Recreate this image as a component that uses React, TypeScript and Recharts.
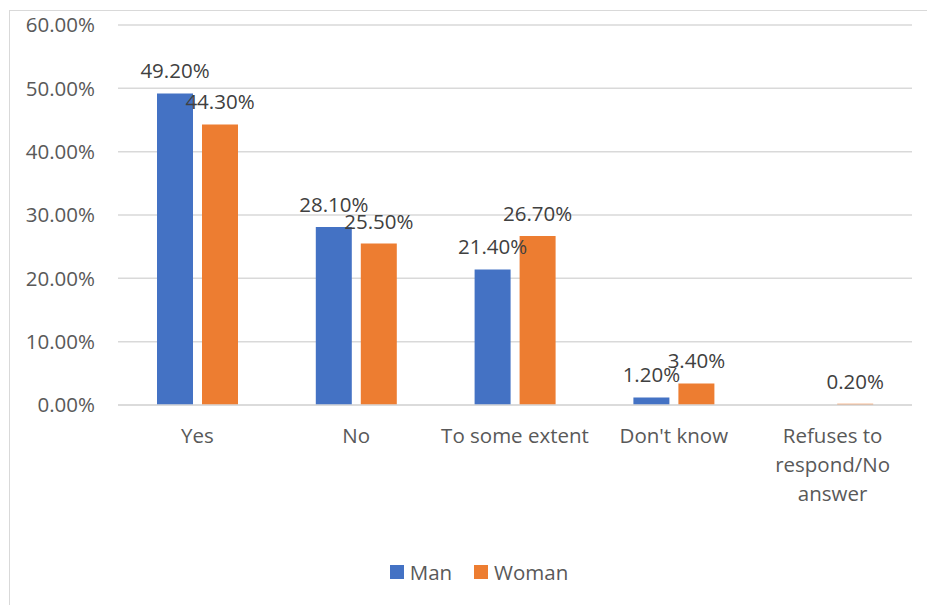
import React from 'react';
import { BarChart, Bar, XAxis, YAxis, CartesianGrid, Legend, LabelList } from 'recharts';

const categories = ['Yes', 'No', 'To some extent', "Don't know", 'Refuses to respond/No answer'];
const tickLines = [['Yes'], ['No'], ['To some extent'], ["Don't know"], ['Refuses to', 'respond/No', 'answer']];
const manValues = [0.492, 0.281, 0.214, 0.012, 0];
const womanValues = [0.443, 0.255, 0.267, 0.034, 0.002];
const yTicks = [0, 0.1, 0.2, 0.3, 0.4, 0.5, 0.6];

const data = categories.map((c, i) => ({ name: c, Man: manValues[i], Woman: womanValues[i] }));

const FONT = '"Open Sans", sans-serif';
const FS = 20.5;
const pct = (v: number) => (v * 100).toFixed(2) + '%';

const XTick = (props: any) => {
  const { x, y, payload } = props;
  const idx = categories.indexOf(payload.value);
  const lines = idx >= 0 ? tickLines[idx] : [String(payload.value)];
  return (
    <text x={x} y={y + 30} textAnchor="middle" fill="#595959" style={{ fontFamily: FONT, fontSize: FS }}>
      {lines.map((l, i) => (
        <tspan key={i} x={x} dy={i === 0 ? 0 : 29}>
          {l}
        </tspan>
      ))}
    </text>
  );
};

const renderLegend = (props: any) => {
  const { payload } = props;
  return (
    <div style={{ display: 'flex', justifyContent: 'center', fontFamily: FONT, fontSize: FS, color: '#595959', paddingLeft: 36 }}>
      {payload.map((p: any, i: number) => (
        <div key={i} style={{ display: 'flex', alignItems: 'center', marginRight: i === 0 ? 22 : 0 }}>
          <div style={{ width: 14, height: 14, background: p.color, marginRight: 6 }} />
          <span>{p.value}</span>
        </div>
      ))}
    </div>
  );
};

export default function App() {
  return (
    <div style={{ position: 'absolute', left: 0, top: 0, width: 927, height: 605, background: '#fff', overflow: 'hidden' }}>
      <div style={{ position: 'absolute', left: 9, top: 10, width: 940, height: 620, border: '1.5px solid #d9d9d9' }} />
      <div style={{ position: 'absolute', left: 0, top: 0 }}>
        <BarChart
          width={927}
          height={605}
          data={data}
          margin={{ top: 25, right: 15, left: 10, bottom: 17 }}
          barCategoryGap={39}
          barGap={9}
        >
          <CartesianGrid vertical={false} stroke="#d9d9d9" strokeWidth={1.5} />
          <XAxis
            dataKey="name"
            axisLine={{ stroke: '#d9d9d9', strokeWidth: 1.5 }}
            tickLine={false}
            tick={<XTick />}
            height={153}
            interval={0}
          />
          <YAxis
            domain={[0, 0.6]}
            ticks={yTicks}
            tickFormatter={pct}
            axisLine={false}
            tickLine={false}
            width={108}
            tickMargin={17}
            tick={{ fill: '#595959', fontSize: FS, fontFamily: FONT }}
          />
          <Legend verticalAlign="bottom" height={30} content={renderLegend} />
          <Bar dataKey="Man" fill="#4472C4" isAnimationActive={false}>
            <LabelList
              dataKey="Man"
              position="top"
              offset={15}
              formatter={(v: any) => (v > 0 ? pct(v) : '')}
              style={{ fill: '#404040', fontSize: FS, fontFamily: FONT }}
            />
          </Bar>
          <Bar dataKey="Woman" fill="#ED7D31" isAnimationActive={false}>
            <LabelList
              dataKey="Woman"
              position="top"
              offset={15}
              formatter={(v: any) => pct(v)}
              style={{ fill: '#404040', fontSize: FS, fontFamily: FONT }}
            />
          </Bar>
        </BarChart>
      </div>
    </div>
  );
}
